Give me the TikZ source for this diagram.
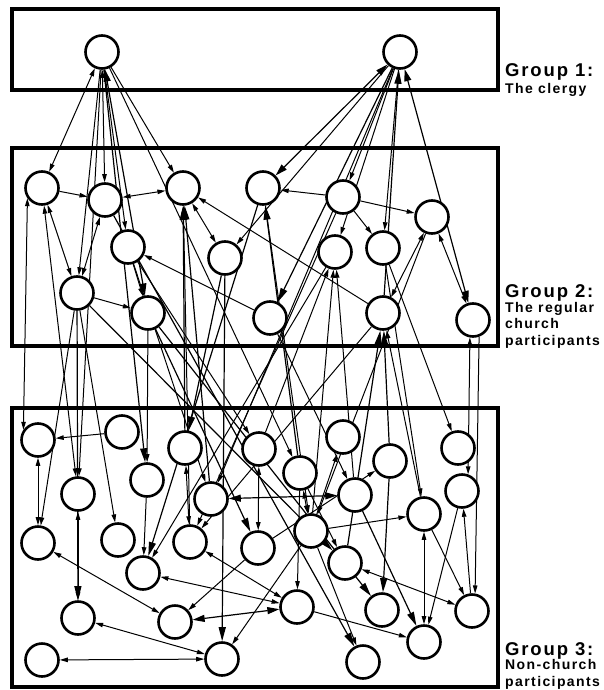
\documentclass[tikz,border=0pt]{standalone}
\usepackage{fontspec}
\setmainfont{Liberation Sans}
\usetikzlibrary{arrows.meta,backgrounds}

\tikzset{
  person/.style={shape=circle, draw, fill=white, line width=2.6pt, minimum size=33pt, inner sep=0pt},
  tie/.style={-{Triangle[length=8pt,width=4.5pt]}, line width=1pt},
  ties/.style={{Triangle[length=8pt,width=4.5pt]}-{Triangle[length=8pt,width=4.5pt]}, line width=1pt},
  bigtie/.style={-{Triangle[length=14pt,width=7pt]}, line width=1.2pt},
  bigties/.style={{Triangle[length=12pt,width=7pt]}-{Triangle[length=12pt,width=7pt]}, line width=1.2pt},
  groupbox/.style={draw, line width=3.5pt},
  grouptitle/.style={anchor=base west, inner sep=0pt, font=\bfseries\fontsize{18.5}{20}\selectfont\addfontfeature{LetterSpace=10}},
  groupnote/.style={anchor=base west, inner sep=0pt, align=left, font=\bfseries\fontsize{14}{16.5}\selectfont\addfontfeature{LetterSpace=10}}
}

\begin{document}
\begin{tikzpicture}[x=1pt, y=-1pt]
\useasboundingbox (0,0) rectangle (603,690);

% the three groups
\draw[groupbox] (12,9) rectangle (498,90);
\draw[groupbox] (12,148) rectangle (498,346);
\draw[groupbox] (12,408) rectangle (498,687);

% base of a note is its last line
\node[grouptitle] (T1) at (505,77) {Group 1:};
\node[groupnote] (S1) at (505,94) {The clergy};
\node[grouptitle] (T2) at (505,297) {Group 2:};
\node[groupnote] (S2) at (505,345) {The regular\\church\\participants};
\node[grouptitle] (T3) at (505,655) {Group 3:};
\node[groupnote] (S3) at (505,686) {Non-church\\participants};

% group 1
\node[person] (C1) at (102,52) {};
\node[person] (C2) at (400,52) {};

% group 2
\node[person] (R1) at (42,188) {};
\node[person] (R2) at (105,200) {};
\node[person] (R3) at (183,188) {};
\node[person] (R4) at (263,188) {};
\node[person] (R5) at (343,197) {};
\node[person] (R6) at (432,217) {};
\node[person] (R7) at (128,247) {};
\node[person] (R8) at (225,258) {};
\node[person] (R9) at (335,252) {};
\node[person] (R10) at (383,248) {};
\node[person] (R11) at (77,293) {};
\node[person] (R12) at (148,313) {};
\node[person] (R13) at (270,318) {};
\node[person] (R14) at (383,313) {};
\node[person] (R15) at (473,320) {};

% group 3
\node[person] (N1) at (38,440) {};
\node[person] (N2) at (122,432) {};
\node[person] (N3) at (185,448) {};
\node[person] (N4) at (259,449) {};
\node[person] (N5) at (343,437) {};
\node[person] (N6) at (458,448) {};
\node[person] (N7) at (300,473) {};
\node[person] (N8) at (390,461) {};
\node[person] (N9) at (78,494) {};
\node[person] (N10) at (147,480) {};
\node[person] (N11) at (211,499) {};
\node[person] (N12) at (355,495) {};
\node[person] (N13) at (462,491) {};
\node[person] (N14) at (424,514) {};
\node[person] (N15) at (38,543) {};
\node[person] (N16) at (118,540) {};
\node[person] (N17) at (190,542) {};
\node[person] (N18) at (258,548) {};
\node[person] (N19) at (311,531) {};
\node[person] (N20) at (345,563) {};
\node[person] (N21) at (143,573) {};
\node[person] (N22) at (297,607) {};
\node[person] (N23) at (78,618) {};
\node[person] (N24) at (175,622) {};
\node[person] (N25) at (382,610) {};
\node[person] (N26) at (472,611) {};
\node[person] (N27) at (424,642) {};
\node[person] (N28) at (42,660) {};
\node[person] (N29) at (222,659) {};
\node[person] (N30) at (363,662) {};

\begin{scope}[on background layer]
% ties of the clergy
\draw[ties] (C1) -- (R1);
\draw[ties] (C1) -- (R2);
\draw[tie] (C1) -- (R11);
\draw[tie] (C1) -- (R7);
\draw[tie] (C1) -- (R3);
\draw[bigties] (C1) -- (R12);
\draw[tie] (C1) -- (N7);
\draw[tie] (C1) -- (N9);
\draw[bigtie] (C1) -- (N10);
\draw[bigties] (C2) -- (R4);
\draw[tie] (C2) -- (R5);
\draw[tie] (C2) -- (R9);
\draw[tie] (C2) -- (R10);
\draw[tie] (C2) -- (R8);
\draw[bigtie] (C2) -- (R13);
\draw[bigties] (C2) -- (R15);
\draw[bigtie] (R14) -- (C2);
\draw[tie] (C2) -- (N11);

% ties inside group 2
\draw[tie] (R1) -- (R2);
\draw[ties] (R2) -- (R3);
\draw[ties] (R1) -- (R11);
\draw[ties] (R2) -- (R11);
\draw[tie] (R11) -- (R12);
\draw[ties] (R3) -- (R8);
\draw[tie] (R13) -- (R7);
\draw[tie] (R14) -- (R3);
\draw[tie] (R5) -- (R4);
\draw[tie] (R5) -- (R6);
\draw[tie] (R5) -- (R10);
\draw[ties] (R6) -- (R14);
\draw[ties] (R6) -- (R15);
\draw[tie] (R7) -- (R12);

% ties between group 2 and group 3
\draw[ties] (R1.215) -- (N1.145);
\draw[ties] (N9) -- (R1);
\draw[tie] (R11) -- (N15);
\draw[tie] (R11) -- (N16);
\draw[bigtie] (R11) -- (N23);
\draw[bigtie] (R11) -- (N20);
\draw[bigtie] (R2) -- (N30);
\draw[tie] (R12) -- (N10);
\draw[bigtie] (R12) -- (N18);
\draw[bigtie] (R12) -- (N25);
\draw[tie] (R7) -- (N4);
\draw[tie] (R7) -- (N11);
\draw[bigtie] (R8) -- (N3);
\draw[bigtie] (R8) -- (N29);
\draw[bigtie] (N3) -- (R3);
\draw[bigtie] (N11) -- (R3);
\draw[tie] (N17) -- (R3);
\draw[bigtie] (N7) -- (R4);
\draw[bigtie] (R4) -- (N21);
\draw[tie] (R4) -- (N19);
\draw[tie] (N19) -- (R9);
\draw[tie] (N12) -- (R9);
\draw[tie] (N4) -- (R9);
\draw[tie] (R9) -- (N21);
\draw[tie] (R5) -- (N17);
\draw[tie] (R13) -- (N12);
\draw[bigtie] (N8) -- (R14);
\draw[bigtie] (N20) -- (R14);
\draw[tie] (N14) -- (R14);
\draw[tie] (R10) -- (N14);
\draw[tie] (R10) -- (N6);
\draw[ties] (R15.260) -- (N13.70);
\draw[tie] (R15.290) -- (N26.80);
\draw[tie] (R6) -- (N19);
\draw[tie] (R14) -- (N17);

% ties inside group 3
\draw[ties] (N1) -- (N15);
\draw[tie] (N2) -- (N1);
\draw[ties] (N9) -- (N23);
\draw[tie] (N10) -- (N21);
\draw[ties] (N21) -- (N22);
\draw[ties] (N15) -- (N24);
\draw[bigties] (N24) -- (N22);
\draw[ties] (N23) -- (N29);
\draw[ties] (N28) -- (N29);
\draw[ties] (N17) -- (N22);
\draw[tie] (N18) -- (N24);
\draw[tie] (N19) -- (N29);
\draw[ties] (N20) -- (N26);
\draw[ties] (N14) -- (N27);
\draw[tie] (N22) -- (N27);
\draw[ties] (N3) -- (N17);
\draw[ties] (N4) -- (N18);
\draw[bigties] (N11) -- (N12);
\draw[ties] (N7) -- (N19);
\draw[tie] (N19) -- (N5);
\draw[tie] (N18) -- (N8);
\draw[tie] (N26) -- (N13);
\draw[tie] (N19) -- (N14);
\draw[tie] (N7) -- (N22);
\draw[bigtie] (N8) -- (N25);
\draw[bigtie] (N12) -- (N27);
\draw[tie] (N13) -- (N27);
\draw[tie] (N14) -- (N26);
\draw[tie] (N19) -- (N30);
\draw[tie] (N7) -- (N20);
\end{scope}
\end{tikzpicture}
\end{document}
